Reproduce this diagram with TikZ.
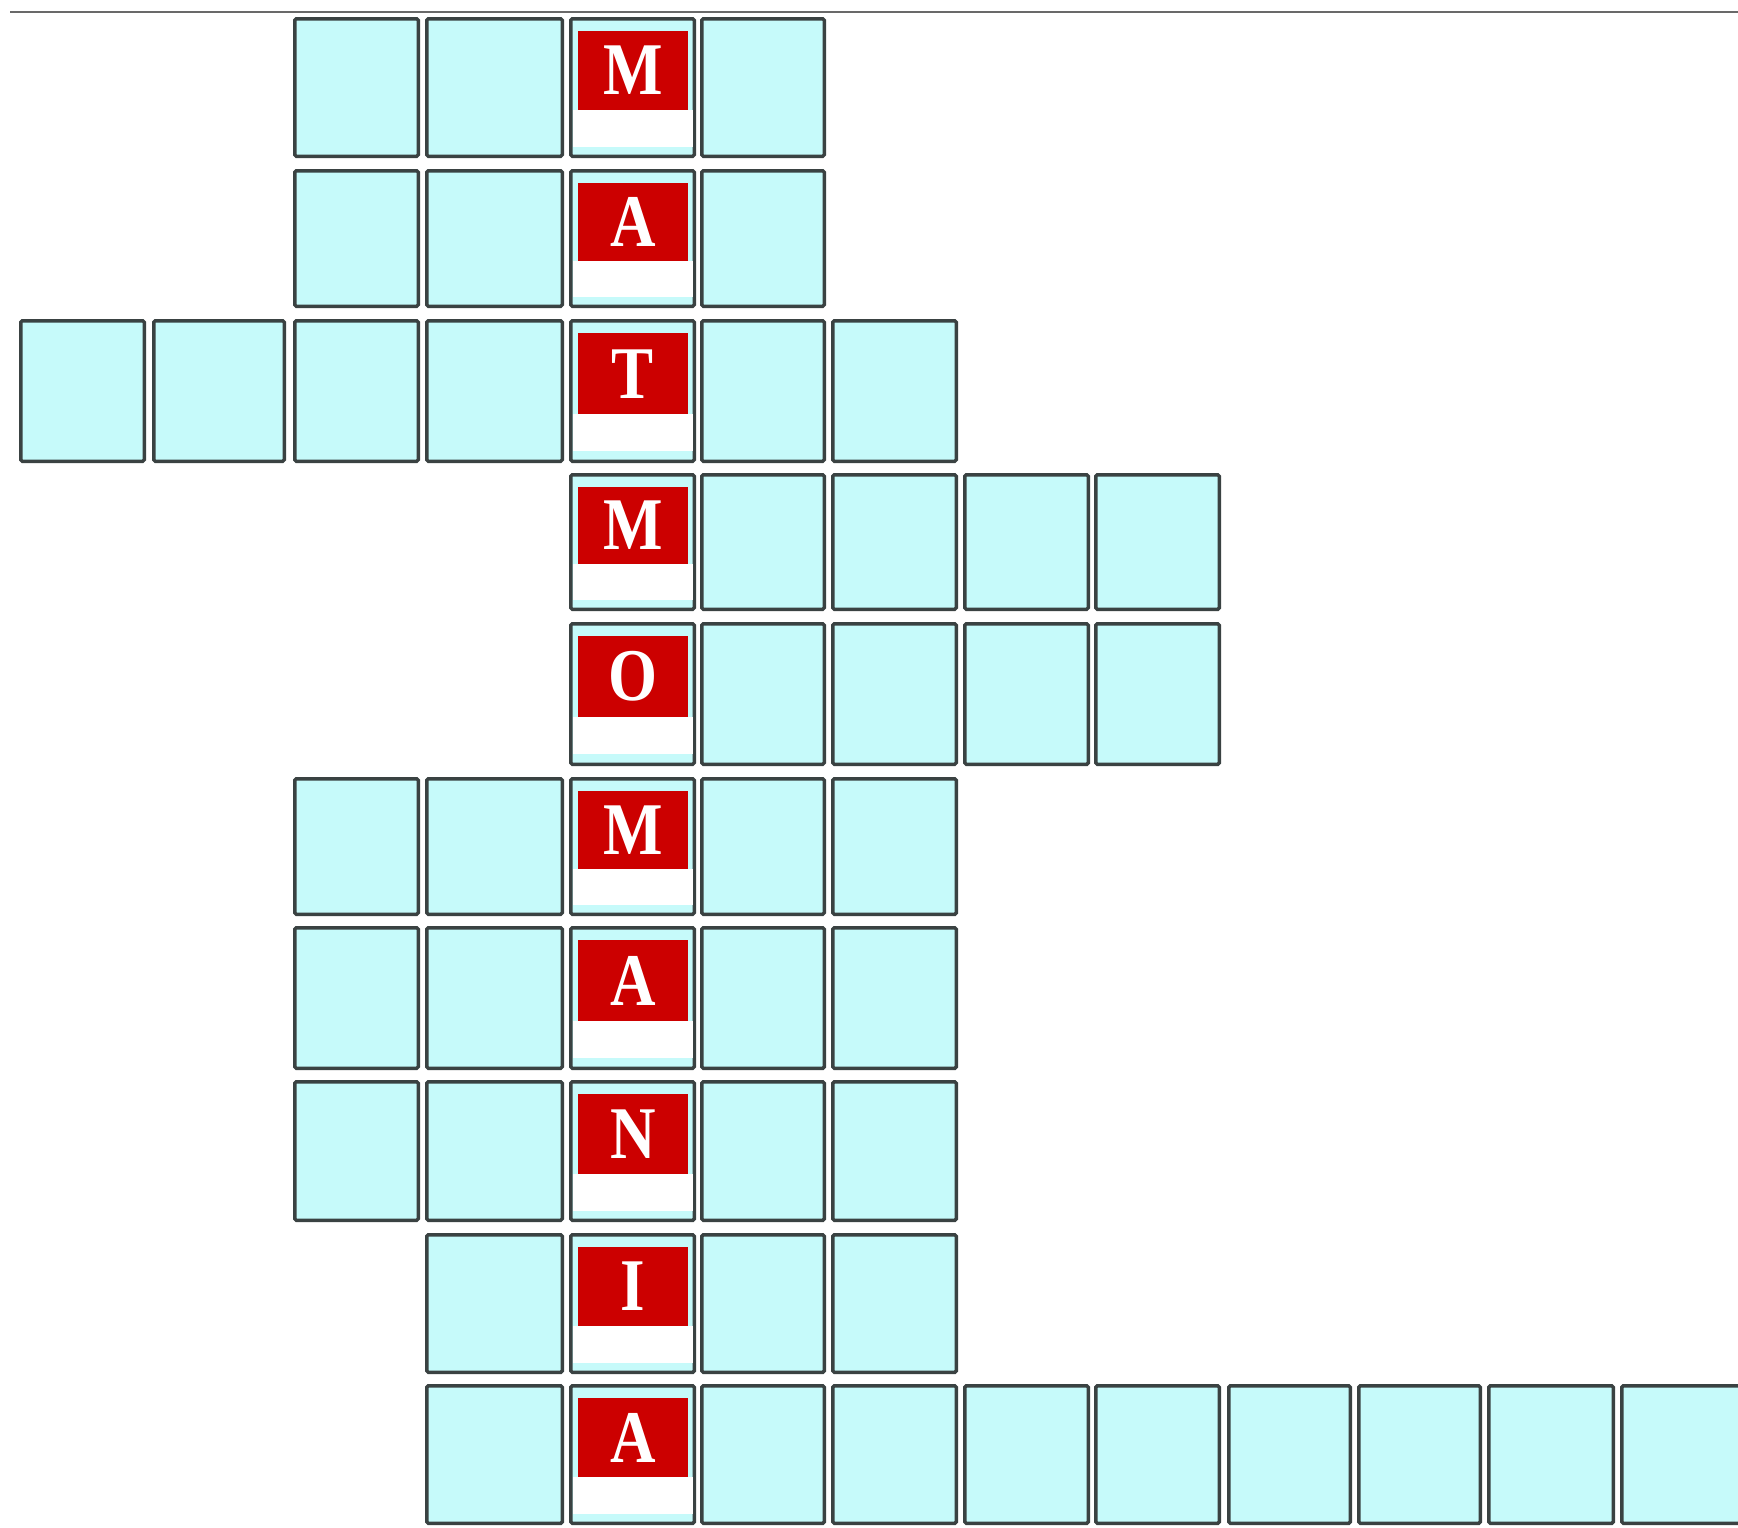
\documentclass[tikz,border=0pt]{standalone}
\usepackage{fontspec}
\setmainfont{Liberation Serif}
\usepackage{graphicx}
\definecolor{cellcyan}{RGB}{198,250,250}
\definecolor{cellline}{RGB}{58,66,66}
\definecolor{tilered}{RGB}{204,0,0}
\definecolor{ruleline}{RGB}{105,105,105}
\tikzset{
  cellbox/.style={draw=cellline, line width=3.5pt, fill=cellcyan, rounded corners=1.5pt, inner sep=0pt, outer sep=0pt},
  tilebox/.style={fill=tilered, draw=none, inner sep=0pt, outer sep=0pt},
  letterstyle/.style={text=white, font=\fontsize{63}{63}\selectfont\bfseries, inner sep=0pt, outer sep=0pt},
}
\newcommand\colL{{19,152,293,425,569,700,831,963,1094,1227,1357,1487,1620}}
\newcommand\colR{{146,286,420,564,696,826,958,1090,1221,1352,1482,1615,1760}}
\newcommand\rowT{{17,169,319,473,622,777,926,1080,1233,1384}}
\newcommand\rowB{{158,308,463,611,766,916,1070,1222,1374,1525}}
\newcommand\xcell[2]{%
  \pgfmathsetmacro\xa{\colL[#1]+1.75}%
  \pgfmathsetmacro\xb{\colR[#1]-1.75}%
  \pgfmathsetmacro\ya{\rowT[#2]+1.75}%
  \pgfmathsetmacro\yb{\rowB[#2]-1.75}%
  \pgfmathsetmacro\cw{\xb-\xa}%
  \pgfmathsetmacro\ch{\yb-\ya}%
  \node[cellbox, minimum width=\cw pt, minimum height=\ch pt] (c#1-#2) at ({(\xa+\xb)/2},{(\ya+\yb)/2}) {};%
}
\newcommand\lcell[3]{%
  \xcell{#1}{#2}%
  \pgfmathsetmacro\ta{\rowT[#2]}%
  \pgfmathsetmacro\tb{\rowB[#2]}%
  \pgfmathsetmacro\la{\colL[#1]}%
  \pgfmathsetmacro\lb{\colR[#1]}%
  \pgfmathsetmacro\hh{\tb-\ta}%
  \fill[white] (\la+3.5,\ta+0.66*\hh) rectangle (\lb-3.5,\ta+0.92*\hh);%
  \pgfmathsetmacro\rw{\lb-\la-17}%
  \pgfmathsetmacro\rh{0.56*\hh}%
  \node[tilebox, minimum width=\rw pt, minimum height=\rh pt] (t#1-#2) at ({\la+9+\rw/2},{\ta+0.10*\hh+\rh/2}) {};%
  \node[letterstyle] (l#1-#2) at (t#1-#2.center) {\scalebox{1}[1.18]{#3}};%
}
\begin{document}
\begin{tikzpicture}[x=1pt,y=-1pt]
  \useasboundingbox (0,0) rectangle (1738,1527);
  \clip (0,0) rectangle (1738,1527);
  \fill[white] (0,0) rectangle (1738,1527);
  \coordinate (rule-l) at (10,11.5);
  \coordinate (rule-r) at (1738,11.5);
  \draw[ruleline, line width=2pt] (rule-l) -- (rule-r);
  % row 0
  \foreach \c in {2,3,5} {\xcell{\c}{0}}
  \lcell{4}{0}{M}
  % row 1
  \foreach \c in {2,3,5} {\xcell{\c}{1}}
  \lcell{4}{1}{A}
  % row 2
  \foreach \c in {0,1,2,3,5,6} {\xcell{\c}{2}}
  \lcell{4}{2}{T}
  % row 3
  \foreach \c in {5,6,7,8} {\xcell{\c}{3}}
  \lcell{4}{3}{M}
  % row 4
  \foreach \c in {5,6,7,8} {\xcell{\c}{4}}
  \lcell{4}{4}{O}
  % row 5
  \foreach \c in {2,3,5,6} {\xcell{\c}{5}}
  \lcell{4}{5}{M}
  % row 6
  \foreach \c in {2,3,5,6} {\xcell{\c}{6}}
  \lcell{4}{6}{A}
  % row 7
  \foreach \c in {2,3,5,6} {\xcell{\c}{7}}
  \lcell{4}{7}{N}
  % row 8
  \foreach \c in {3,5,6} {\xcell{\c}{8}}
  \lcell{4}{8}{I}
  % row 9
  \foreach \c in {3,5,6,7,8,9,10,11,12} {\xcell{\c}{9}}
  \lcell{4}{9}{A}
\end{tikzpicture}
\end{document}
